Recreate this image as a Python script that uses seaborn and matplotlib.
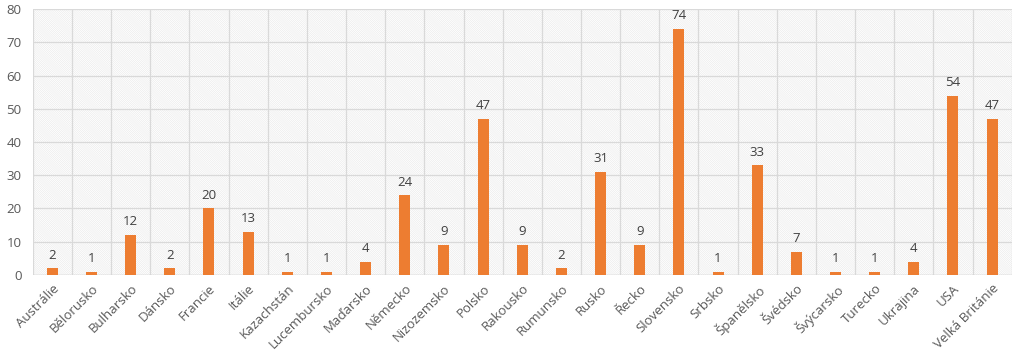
import matplotlib
matplotlib.use("Agg")
import matplotlib.pyplot as plt
import seaborn as sns
import pandas as pd
import numpy as np

countries = ["Austrálie", "Bělorusko", "Bulharsko", "Dánsko", "Francie", "Itálie",
             "Kazachstán", "Lucembursko", "Maďarsko", "Německo", "Nizozemsko", "Polsko",
             "Rakousko", "Rumunsko", "Rusko", "Řecko", "Slovensko", "Srbsko",
             "Španělsko", "Švédsko", "Švýcarsko", "Turecko", "Ukrajina", "USA",
             "Velká Británie"]
counts = [2, 1, 12, 2, 20, 13, 1, 1, 4, 24, 9, 47, 9, 2, 31, 9, 74, 1, 33, 7, 1, 1, 4, 54, 47]

df = pd.DataFrame({"Země": countries, "Počet": counts})

sns.set_style("white")
plt.rcParams['font.family'] = ['Open Sans', 'DejaVu Sans']
plt.rcParams['hatch.linewidth'] = 0.4
plt.rcParams['hatch.color'] = '#e8e8e8'

fig = plt.figure(figsize=(10.24, 3.52), dpi=100)
ax = fig.add_axes([0.032, 0.219, 0.956, 0.755])

# fine hatched background like the Excel plot area
bg = plt.Rectangle((0, 0), 1, 1, transform=ax.transAxes, facecolor='white',
                   edgecolor='#e8e8e8', hatch='\\' * 16, lw=0, zorder=0)
ax.add_patch(bg)

sns.barplot(data=df, x="Země", y="Počet", color="#ed7d31", width=0.28,
            saturation=1, linewidth=0, ax=ax, zorder=3)

for i, v in enumerate(counts):
    ax.text(i, v + 2.0, str(v), ha='center', va='bottom', fontsize=9.5,
            color='#404040', zorder=4)

ax.set_xlim(-0.5, len(countries) - 0.5)
ax.set_ylim(0, 80)
ax.set_yticks(range(0, 81, 10))
ax.set_xticks(np.arange(-0.5, len(countries), 1), minor=True)
ax.grid(True, axis='y', color='#d9d9d9', lw=0.9, zorder=1)
ax.grid(True, axis='x', which='minor', color='#d9d9d9', lw=0.9, zorder=1)
ax.set_axisbelow(True)
ax.tick_params(axis='both', which='both', length=0, colors='#595959', labelsize=9.5)
ax.tick_params(axis='y', pad=8)
ax.tick_params(axis='x', pad=5)
plt.setp(ax.get_xticklabels(), rotation=45, ha='right', rotation_mode='anchor')
ax.set_xlabel("")
ax.set_ylabel("")
for s in ax.spines.values():
    s.set_visible(False)
ax.axhline(0, color='#d0d0d0', lw=1, zorder=2)
ax.set_facecolor('none')

fig.savefig("out.png", dpi=100)
